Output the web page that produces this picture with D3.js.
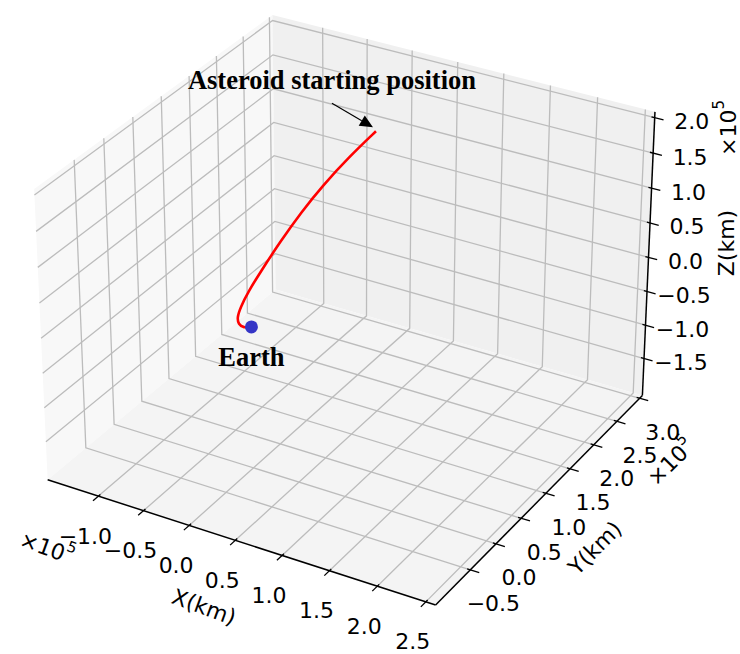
<!DOCTYPE html>
<html>
<head>
<meta charset="utf-8">
<script src="https://cdn.jsdelivr.net/npm/d3@7"></script>
<style>
  body { margin: 0; background: #fff; }
  text { font-family: "DejaVu Sans", sans-serif; }
</style>
</head>
<body>
<div id="container"></div>
<script>
// values in units of 1e5 km
const xTicks = [-1.0, -0.5, 0.0, 0.5, 1.0, 1.5, 2.0, 2.5];
const yTicks = [-0.5, 0.0, 0.5, 1.0, 1.5, 2.0, 2.5, 3.0];
const zTicks = [-1.5, -1.0, -0.5, 0.0, 0.5, 1.0, 1.5, 2.0];
const xLim = [-1.57, 2.6];
const yLim = [-1.16, 3.06];
const zLim = [-2.06, 2.08];

// asteroid trajectory (start -> Earth)
const trajX = [0, 0, 0, 0, 0, 0, 0, 0, 0, 0, 0, 0];
const trajY = [2.35, 1.82, 1.34, 0.93, 0.53, 0.20, -0.05, -0.19, -0.25, -0.23, -0.14, 0];
const trajZ = [1.33, 1.27, 1.17, 1.04, 0.86, 0.68, 0.53, 0.40, 0.30, 0.19, 0.08, 0];
const earth = [0, 0, 0];

const w = 740, h = 654;
const svg = d3.select('#container').append('svg')
    .attr('width', w)
    .attr('height', h);
svg.append('rect').attr('width', w).attr('height', h).attr('fill', '#fff');

// view like matplotlib default (elev 30, azim -60)
const elev = 30 * Math.PI / 180, azim = -60 * Math.PI / 180, dist = 10;
const U = [-Math.sin(azim), Math.cos(azim), 0];
const V = [-Math.sin(elev) * Math.cos(azim), -Math.sin(elev) * Math.sin(azim), Math.cos(elev)];
const W = [Math.cos(elev) * Math.cos(azim), Math.cos(elev) * Math.sin(azim), Math.sin(elev)];
const aspect = [4, 4, 3].map(a => a * 1.8294640721620434 / Math.sqrt(41));

const xScale = d3.scaleLinear().domain(xLim).range([-aspect[0] / 2, aspect[0] / 2]);
const yScale = d3.scaleLinear().domain(yLim).range([-aspect[1] / 2, aspect[1] / 2]);
const zScale = d3.scaleLinear().domain(zLim).range([-aspect[2] / 2, aspect[2] / 2]);
const screenX = d3.scaleLinear().domain([-1, 1]).range([350.3 - 389, 350.3 + 389]);
const screenY = d3.scaleLinear().domain([-1, 1]).range([296.4 + 386.6, 296.4 - 386.6]);

const project = (x, y, z) => {
    const p = [xScale(x), yScale(y), zScale(z)];
    const dot = a => p[0] * a[0] + p[1] * a[1] + p[2] * a[2];
    const f = dist / (dist - dot(W));
    return [screenX(dot(U) * f), screenY(dot(V) * f)];
};

const line = d3.line();
const [x0, x1] = xLim, [y0, y1] = yLim, [z0, z1] = zLim;

// panes
const panes = [
    { pts: [[x0, y0, z0], [x0, y1, z0], [x0, y1, z1], [x0, y0, z1]], fill: '#f8f8f8' },
    { pts: [[x0, y1, z0], [x1, y1, z0], [x1, y1, z1], [x0, y1, z1]], fill: '#f0f0f0' },
    { pts: [[x0, y0, z0], [x1, y0, z0], [x1, y1, z0], [x0, y1, z0]], fill: '#f4f4f4' }
];
svg.selectAll('.pane')
    .data(panes)
    .enter()
    .append('path')
    .attr('class', 'pane')
    .attr('d', d => line(d.pts.map(p => project(...p))) + 'Z')
    .attr('fill', d => d.fill);

// grid lines
const grid = [];
xTicks.forEach(x => grid.push([[x, y0, z0], [x, y1, z0], [x, y1, z1]]));
yTicks.forEach(y => grid.push([[x1, y, z0], [x0, y, z0], [x0, y, z1]]));
zTicks.forEach(z => grid.push([[x0, y0, z], [x0, y1, z], [x1, y1, z]]));
svg.selectAll('.grid')
    .data(grid)
    .enter()
    .append('path')
    .attr('class', 'grid')
    .attr('d', d => line(d.map(p => project(...p))))
    .attr('fill', 'none')
    .attr('stroke', '#bcbcbc')
    .attr('stroke-width', 1.3);

// axis lines
const axisLines = [
    [[x0, y0, z0], [x1, y0, z0]],
    [[x1, y0, z0], [x1, y1, z0]],
    [[x1, y1, z0], [x1, y1, z1]]
];
svg.selectAll('.axis-line')
    .data(axisLines)
    .enter()
    .append('path')
    .attr('class', 'axis-line')
    .attr('d', d => line(d.map(p => project(...p))))
    .attr('fill', 'none')
    .attr('stroke', '#000')
    .attr('stroke-width', 1.5);

const tin = 0.008, tout = 0.022;
const rx = x1 - x0, ry = y1 - y0;
const ticks = [];
xTicks.forEach(x => ticks.push([[x, y0 + tin * ry, z0], [x, y0 - tout * ry, z0]]));
yTicks.forEach(y => ticks.push([[x1 - tin * rx, y, z0], [x1 + tout * rx, y, z0]]));
zTicks.forEach(z => ticks.push([[x1 - tin * rx, y1, z], [x1 + tout * rx, y1, z]]));
svg.selectAll('.tick')
    .data(ticks)
    .enter()
    .append('path')
    .attr('class', 'tick')
    .attr('d', d => line(d.map(p => project(...p))))
    .attr('stroke', '#000')
    .attr('stroke-width', 1.3);

const fmt = d => d3.format('.1f')(d).replace('-', '\u2212');
const tickLabel = (data, pos, dx, dy) => {
    svg.append('g').selectAll('text')
        .data(data)
        .enter()
        .append('text')
        .attr('x', d => pos(d)[0] + dx)
        .attr('y', d => pos(d)[1] + dy)
        .attr('text-anchor', 'middle')
        .attr('dominant-baseline', 'central')
        .attr('font-size', 22)
        .text(fmt);
};
tickLabel(xTicks, d => project(d, y0, z0), -13, 40);
tickLabel(yTicks, d => project(x1, d, z0), 23, 34);
tickLabel(zTicks, d => project(x1, y1, d), 37, 4);

// axis titles and offset texts
const rotText = (x, y, rot, txt, sup) => {
    const t = svg.append('text')
        .attr('transform', `translate(${x},${y}) rotate(${rot})`)
        .attr('text-anchor', 'middle')
        .attr('dominant-baseline', 'central')
        .attr('font-size', 22)
        .text(txt);
    if (sup) {
        t.append('tspan').attr('font-size', 15).attr('dy', -9).text(sup);
    }
};
rotText(204, 607, 20, 'X(km)');
rotText(47, 548, 20, '\u00d710', '5');
rotText(595, 548, -45, 'Y(km)');
rotText(671, 462, -45, '\u00d710', '5');
rotText(726, 243, -90, 'Z(km)');
rotText(728, 128, -90, '\u00d710', '5');

// trajectory
const trajPts = trajX.map((x, i) => project(x, trajY[i], trajZ[i]));
svg.append('path')
    .attr('d', d3.line().curve(d3.curveBasis)(trajPts))
    .attr('fill', 'none')
    .attr('stroke', '#ff0000')
    .attr('stroke-width', 2.6);

// Earth
const ep = project(...earth);
svg.append('circle')
    .attr('cx', ep[0])
    .attr('cy', ep[1])
    .attr('r', 6.5)
    .attr('fill', '#3535c6');

// annotations
svg.append('text')
    .attr('x', ep[0])
    .attr('y', ep[1] + 39)
    .attr('text-anchor', 'middle')
    .style('font-family', '"Liberation Serif", "Times New Roman", serif')
    .attr('font-weight', 'bold')
    .attr('font-size', 26.5)
    .text('Earth');

const sp = trajPts[0];
svg.append('text')
    .attr('x', sp[0] - 44)
    .attr('y', sp[1] - 42)
    .attr('text-anchor', 'middle')
    .style('font-family', '"Liberation Serif", "Times New Roman", serif')
    .attr('font-weight', 'bold')
    .attr('font-size', 26.5)
    .text('Asteroid starting position');

const a0 = [sp[0] - 44, sp[1] - 28], a1 = [sp[0] - 3, sp[1] - 4];
const ang = Math.atan2(a1[1] - a0[1], a1[0] - a0[0]);
const hl = 13, hw = 6;
const base = [a1[0] - hl * Math.cos(ang), a1[1] - hl * Math.sin(ang)];
svg.append('line')
    .attr('x1', a0[0]).attr('y1', a0[1])
    .attr('x2', base[0]).attr('y2', base[1])
    .attr('stroke', '#000')
    .attr('stroke-width', 1.2);
svg.append('path')
    .attr('d', line([
        a1,
        [base[0] + hw * Math.sin(ang), base[1] - hw * Math.cos(ang)],
        [base[0] - hw * Math.sin(ang), base[1] + hw * Math.cos(ang)]
    ]) + 'Z')
    .attr('fill', '#000');
</script>
</body>
</html>
